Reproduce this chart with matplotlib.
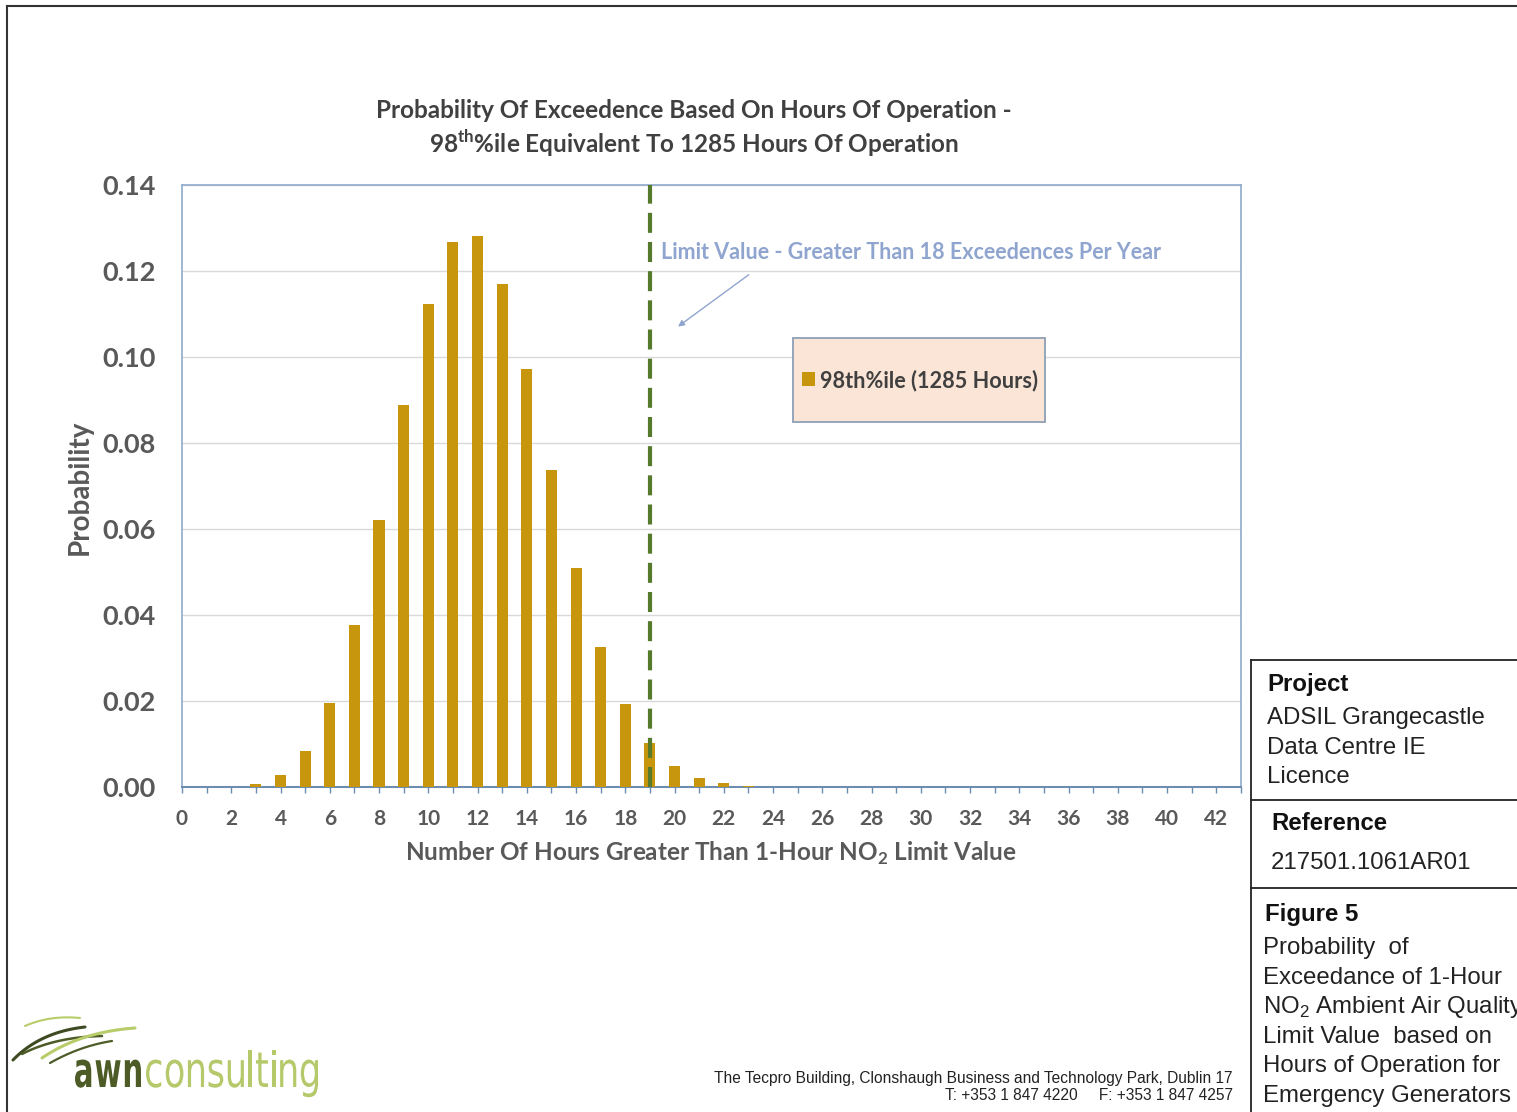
import numpy as np
from matplotlib import pyplot as plt
from matplotlib.lines import Line2D
from matplotlib.patches import Rectangle, PathPatch
from matplotlib.textpath import TextPath
from matplotlib.font_manager import FontProperties
from matplotlib.transforms import Affine2D

plt.rcParams['font.family'] = ['Lato', 'DejaVu Sans']
plt.rcParams['mathtext.fontset'] = 'custom'
plt.rcParams['mathtext.rm'] = 'Lato'
plt.rcParams['mathtext.bf'] = 'Lato:bold'
plt.rcParams['mathtext.sf'] = 'Liberation Sans'

# data
hours = [3, 4, 5, 6, 7, 8, 9, 10, 11, 12, 13, 14, 15, 16, 17, 18, 19, 20, 21, 22, 23]
probability = [0.0006, 0.0028, 0.0084, 0.0196, 0.0376, 0.0620, 0.0889, 0.1124,
               0.1267, 0.1282, 0.1170, 0.0971, 0.0737, 0.0509, 0.0326, 0.0192,
               0.0102, 0.0050, 0.0022, 0.0009, 0.0002]
limit_hours = 19
series_name = '98th%ile (1285 Hours)'
x_tick_values = list(range(0, 43, 2))
y_tick_values = [0.00, 0.02, 0.04, 0.06, 0.08, 0.10, 0.12, 0.14]

W, H = 1517, 1112
BAR = '#C8960C'
GREY = '#595959'


def fx(px):
    return px / W


def fy(py):
    return 1 - py / H


fig = plt.figure(figsize=(W / 100, H / 100), dpi=100)
ax = fig.add_axes([fx(182), fy(787), (1241 - 182) / W, (787 - 185) / H])

bars = ax.bar(hours, probability, width=0.45, color=BAR, zorder=3, label=series_name)
ax.axvline(limit_hours, color='#557A2C', lw=3, dashes=(4.8, 2.2), zorder=4)

ax.set_xlim(0, 43)
ax.set_ylim(0, 0.14)
ax.set_xticks(x_tick_values)
ax.set_xticks(range(0, 44), minor=True)
ax.set_yticks(y_tick_values)
ax.set_yticklabels(['%.2f' % v for v in y_tick_values])
ax.grid(axis='y', color='#D9D9D9', lw=1, zorder=0)
ax.set_axisbelow(True)

for side in ['top', 'right', 'left']:
    ax.spines[side].set_color('#8FAACB')
    ax.spines[side].set_linewidth(1.2)
ax.spines['bottom'].set_color('#6C8CB0')
ax.spines['bottom'].set_linewidth(1.5)

ax.tick_params(axis='y', length=0, pad=19, labelsize=19.5, labelcolor=GREY)
ax.tick_params(axis='x', which='both', direction='out', color='#6C8CB0',
               length=4.5, width=1, pad=11, labelsize=15, labelcolor=GREY)
for lab in ax.get_yticklabels() + ax.get_xticklabels():
    lab.set_fontweight('bold')

# legend box
ax.add_patch(Rectangle(((793 - 182) / 1059, (787 - 422) / 602), 252 / 1059, 84 / 602,
                       transform=ax.transAxes, facecolor='#FBE5D6', edgecolor='#8DA0B8',
                       lw=1.3, zorder=5))
leg = ax.legend(loc='center', bbox_to_anchor=(0.697, 0.676), frameon=False,
                handlelength=0.6, handleheight=0.6, handletextpad=0.25,
                prop={'weight': 'bold', 'size': 15.6})
leg.set_zorder(6)
for t in leg.get_texts():
    t.set_color('#404040')

# limit annotation
ax.text(limit_hours + 0.45, 0.1244, 'Limit Value - Greater Than 18 Exceedences Per Year',
        color='#8FA5CF', fontsize=15.5, fontweight='bold', va='center', zorder=6)
ax.annotate('', xy=(20.05, 0.1067), xytext=(23.1, 0.1195),
            arrowprops=dict(arrowstyle='-|>', color='#8FA5CF', lw=1, mutation_scale=9))

# titles and axis labels
fig.text(fx(694), fy(111), 'Probability Of Exceedence Based On Hours Of Operation -',
         ha='center', va='center', fontsize=17.5, fontweight='bold', color='#404040')
fig.text(fx(694), fy(143), r'98$^{\mathbf{th}}$%ile Equivalent To 1285 Hours Of Operation',
         ha='center', va='center', fontsize=17.5, fontweight='bold', color='#404040')
fig.text(fx(711), fy(853), r'Number Of Hours Greater Than 1-Hour NO$_{\mathbf{2}}$ Limit Value',
         ha='center', va='center', fontsize=17.5, fontweight='bold', color=GREY)
fig.text(fx(80), fy(487), 'Probability', rotation=90, ha='center', va='center',
         fontsize=20, fontweight='bold', color=GREY)

# outer border
fig.add_artist(Line2D([fx(7), fx(7)], [fy(6), 0], color='#333333', lw=1.5))
fig.add_artist(Line2D([fx(7), 1], [fy(6), fy(6)], color='#333333', lw=1.5))

# right info panel
for seg in [([1251, 1251], [660, 1112]), ([1251, 1517], [660, 660]),
            ([1251, 1517], [800, 800]), ([1251, 1517], [888, 888])]:
    fig.add_artist(Line2D([fx(v) for v in seg[0]], [fy(v) for v in seg[1]],
                          color='#222222', lw=1.3))

arial = ['Liberation Sans', 'DejaVu Sans']
fig.text(fx(1267), fy(685), 'Project', family=arial, fontsize=17.3, fontweight='bold',
         va='center', color='#111111')
for i, line in enumerate(['ADSIL Grangecastle', 'Data Centre IE', 'Licence']):
    fig.text(fx(1267), fy(718 + i * 29.5), line, family=arial, fontsize=17.3,
             va='center', color='#222222')
fig.text(fx(1271), fy(823), 'Reference', family=arial, fontsize=17.3, fontweight='bold',
         va='center', color='#111111')
fig.text(fx(1271), fy(863), '217501.1061AR01', family=arial, fontsize=17.3,
         va='center', color='#222222')
fig.text(fx(1265), fy(915), 'Figure 5', family=arial, fontsize=17.3, fontweight='bold',
         va='center', color='#111111')
# the last word of the third line runs past the page edge, as in the original
panel_lines = ['Probability  of', 'Exceedance of 1-Hour', r'NO$_{\mathsf{2}}$ Ambient Air Quality',
               'Limit Value  based on', 'Hours of Operation for', 'Emergency Generators']
for i, line in enumerate(panel_lines):
    fig.text(fx(1263), fy(948 + i * 29.6), line, family=arial, fontsize=17.3,
             va='center', color='#222222')

# footer address
fig.text(fx(1233), fy(1079), 'The Tecpro Building, Clonshaugh Business and Technology Park, Dublin 17',
         family=arial, fontsize=11.2, ha='right', va='center', color='#222222')
fig.text(fx(1233), fy(1096), 'T: +353 1 847 4220     F: +353 1 847 4257',
         family=arial, fontsize=11.2, ha='right', va='center', color='#222222')

# logo swooshes
swooshes = [((25, 1026), (50, 1015), (80, 1018), '#B8CC6A', 1.5),
            ((13, 1060), (40, 1032), (85, 1027), '#3E4A22', 2.2),
            ((22, 1054), (55, 1037), (102, 1036), '#4D5B26', 1.8),
            ((42, 1058), (80, 1032), (135, 1028), '#B8CC6A', 2.2),
            ((50, 1063), (80, 1046), (112, 1041), '#4D5B26', 1.6)]
t = np.linspace(0, 1, 30)
for p0, p1, p2, col, lw in swooshes:
    xs = (1 - t) ** 2 * p0[0] + 2 * (1 - t) * t * p1[0] + t ** 2 * p2[0]
    ys = (1 - t) ** 2 * p0[1] + 2 * (1 - t) * t * p1[1] + t ** 2 * p2[1]
    fig.add_artist(Line2D([fx(v) for v in xs], [fy(v) for v in ys], color=col, lw=lw,
                          solid_capstyle='round'))


# logo text: narrowed glyphs spread over a given width
def logo_word(text, x0, x1, weight, colour, sx, sy):
    prop = FontProperties(family='DejaVu Sans', weight=weight)
    paths = [TextPath((0, 0), ch, size=49, prop=prop) for ch in text]
    widths = [p.get_extents().width * sx for p in paths]
    gap = (x1 - x0 - sum(widths)) / (len(text) - 1)
    cursor = x0
    for p, w in zip(paths, widths):
        ext = p.get_extents()
        tr = Affine2D().translate(-ext.x0, 0).scale(sx, sy).translate(cursor, H - 1087)
        patch = PathPatch(tr.transform_path(p), facecolor=colour, edgecolor='none')
        patch.set_transform(Affine2D().scale(1 / W, 1 / H) + fig.transFigure)
        fig.add_artist(patch)
        cursor += w + gap


logo_word('awn', 75, 141, 'bold', '#4D5B26', 0.6, 1.0)
logo_word('consulting', 146, 318, 'normal', '#B5C96A', 0.72, 1.0)

fig.savefig('out.png', dpi=100)
